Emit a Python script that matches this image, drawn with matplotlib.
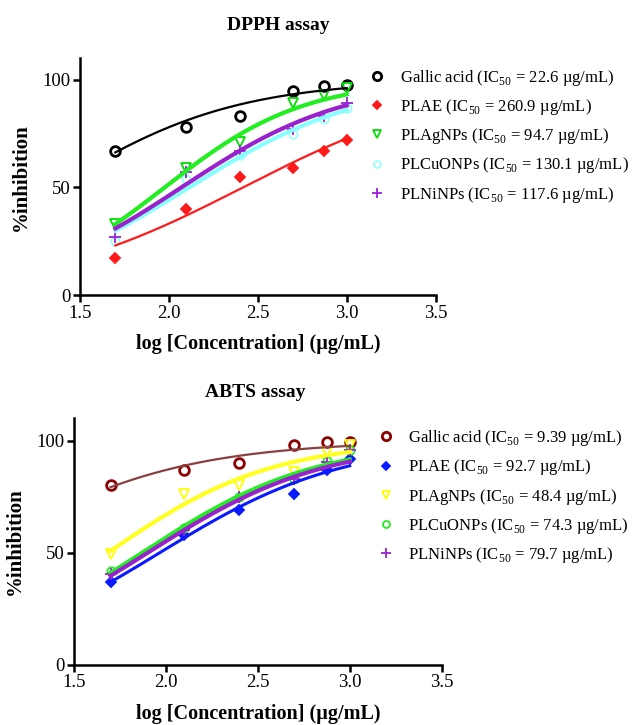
import matplotlib
matplotlib.use("Agg")
import matplotlib.pyplot as plt
from matplotlib.lines import Line2D
import numpy as np

plt.rcParams['font.family'] = ['Liberation Serif', 'DejaVu Serif']
plt.rcParams['mathtext.fontset'] = 'custom'
plt.rcParams['mathtext.rm'] = 'Liberation Serif'

# log10 of 50, 125, 250, 500, 750, 1000 ug/mL
log_conc = [1.699, 2.097, 2.398, 2.699, 2.875, 3.0]

samples = ["Gallic acid", "PLAE", "PLAgNPs", "PLCuONPs", "PLNiNPs"]

# DPPH %inhibition
dpph_gallic = [67, 78, 83, 95, 97, 97.5]
dpph_plae = [17, 40, 55, 59, 67, 72]
dpph_ag = [33, 59, 71, 89, 93, 96]
dpph_cuo = [25, 54, 65, 75, 82, 87]
dpph_ni = [27, 57, 67, 77, 83, 89]
dpph_ic50 = [22.6, 260.9, 94.7, 130.1, 117.6]
dpph_hill = [0.85, 0.73, 1.11, 0.89, 0.94]

# ABTS %inhibition
abts_gallic = [80, 87, 90, 98, 99.3, 99.3]
abts_plae = [37, 58, 69, 76, 87, 92]
abts_ag = [49.5, 76, 80, 86, 95, 98]
abts_cuo = [42, 61, 75, 83, 91, 96]
abts_ni = [40.5, 60, 75, 83, 90.5, 96]
abts_ic50 = [9.39, 92.7, 48.4, 74.3, 79.7]
abts_hill = [0.8, 0.87, 0.97, 0.92, 0.9]


def dose_response(x, ic50, hill):
    return 100.0 / (1 + 10 ** ((np.log10(ic50) - x) * hill))


def panel(fig, rect, title, series, ic50s, hills, colors, line_colors,
          widths, legend_xy, title_xy):
    ax = fig.add_axes(rect)
    markers = ['o', 'D', 'v', 'o', '+']
    sizes = [7, 5.5, 7, 6, 8]
    handles = []
    xs = np.linspace(log_conc[0], log_conc[-1], 200)
    for i, ys in enumerate(series):
        filled = markers[i] == 'D'
        ax.plot(log_conc, ys, linestyle='none', marker=markers[i],
                markersize=sizes[i], markeredgewidth=2 if i == 0 else 1.3,
                markeredgecolor=colors[i],
                markerfacecolor=colors[i] if filled else 'none', zorder=2)
        ax.plot(xs, dose_response(xs, ic50s[i], hills[i]),
                color=line_colors[i], linewidth=widths[i], zorder=3)
        handles.append(Line2D([], [], linestyle='none', marker=markers[i],
                              markersize=sizes[i] - 1,
                              markeredgewidth=2 if i == 0 else 1.3,
                              markeredgecolor=colors[i],
                              markerfacecolor=colors[i] if filled else 'none'))
    labels = ["%s (IC$_{50}$ = %s µg/mL)" % (s, v) for s, v in zip(samples, ic50s)]
    fig.legend(handles, labels, loc='upper left', bbox_to_anchor=legend_xy,
               frameon=False, fontsize=12, handletextpad=0.8,
               labelspacing=0.55, handlelength=1.1)

    ax.set_xlim(1.5, 3.5)
    ax.set_ylim(0, 110)
    ax.set_xticks([1.5, 2.0, 2.5, 3.0, 3.5])
    ax.set_xticklabels(["1.5", "2.0", "2.5", "3.0", "3.5"])
    ax.set_yticks([0, 50, 100])
    ax.spines['top'].set_visible(False)
    ax.spines['right'].set_visible(False)
    ax.spines['left'].set_linewidth(1.8)
    ax.spines['bottom'].set_linewidth(1.8)
    ax.tick_params(direction='out', length=5, width=1.8, labelsize=13.5, pad=2)
    ax.set_xlabel("log [Concentration] (µg/mL)", fontsize=14.5, fontweight='bold',
                  labelpad=9)
    ax.set_ylabel("%inhibition", fontsize=15, fontweight='bold', labelpad=8)
    fig.text(title_xy[0], title_xy[1], title, fontsize=14, fontweight='bold',
             ha='center', va='center')
    return ax


fig = plt.figure(figsize=(6.41, 7.25), dpi=100)

panel(fig, [0.1248, 0.5931, 0.5548, 0.3265], "DPPH assay",
      [dpph_gallic, dpph_plae, dpph_ag, dpph_cuo, dpph_ni],
      dpph_ic50, dpph_hill,
      ['black', '#ff1a1a', '#00dd00', '#99ffff', '#9922dd'],
      ['black', '#ff1a1a', '#22ee22', '#88ffff', '#9922cc'],
      [1.6, 1.6, 3, 3, 3], (0.551, 0.927), (0.434, 0.965))

panel(fig, [0.1154, 0.0832, 0.5736, 0.3399], "ABTS assay",
      [abts_gallic, abts_plae, abts_ag, abts_cuo, abts_ni],
      abts_ic50, abts_hill,
      ['#8b0000', '#0a1aff', '#ffff00', '#22ee22', '#9922cc'],
      ['#8b4040', '#0a1aff', '#ffff22', '#22ee22', '#9922cc'],
      [1.6, 2.2, 3, 3, 3], (0.564, 0.430), (0.398, 0.459))

fig.savefig("out.png", dpi=100)
